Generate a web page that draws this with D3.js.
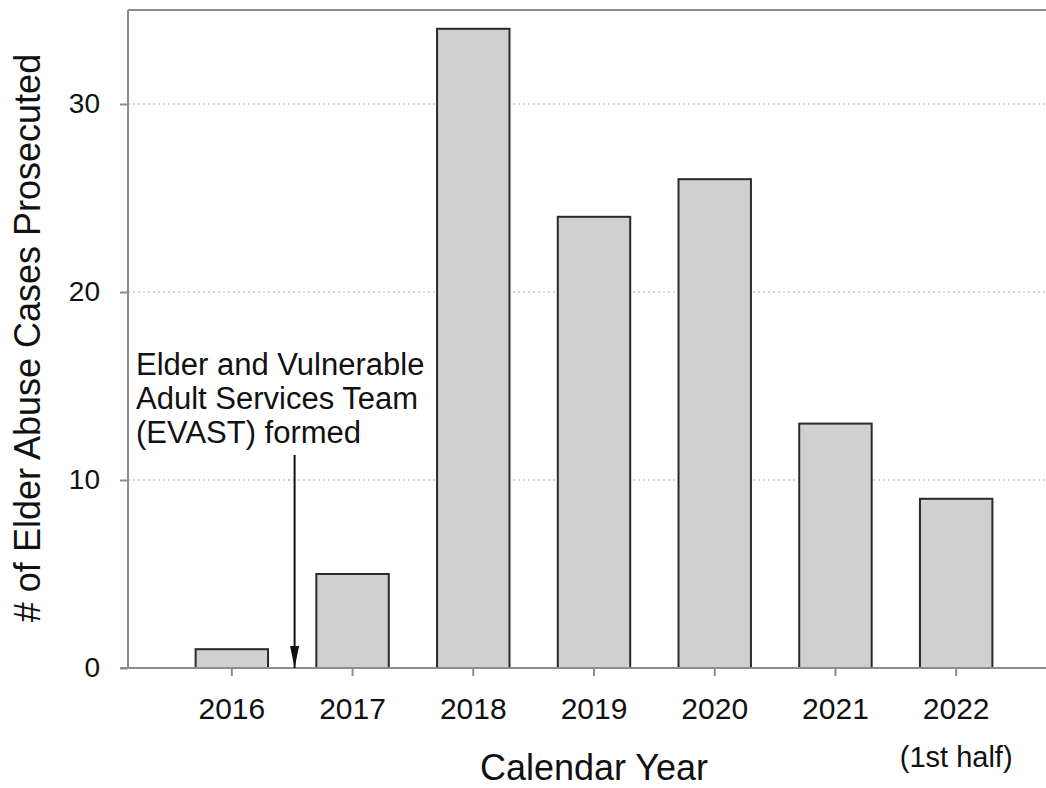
<!DOCTYPE html>
<html lang="en">
  <head>
    <script src="https://d3js.org/d3.v7.min.js"></script>
    <style>
      body { margin: 0; background: white; }
      text { font-family: "Liberation Sans", Arial, sans-serif; fill: #111; }
      .grid line { stroke: #c8c8c8; stroke-width: 1.5; stroke-dasharray: 2 3; }
      .bar { fill: #d0d0d0; stroke: #2a2a2a; stroke-width: 2; }
      .frame { stroke: #8c8c8c; stroke-width: 2; fill: none; }
    </style>
  </head>
  <body>
    <div id="chart"></div>
    <script>
      // data
      let years = ["2016", "2017", "2018", "2019", "2020", "2021", "2022"];
      let cases = [1, 5, 34, 24, 26, 13, 9];
      let yTicks = [0, 10, 20, 30];
      let subLabels = { "2022": "(1st half)" };
      let noteLines = ["Elder and Vulnerable", "Adult Services Team", "(EVAST) formed"];

      let width = 1046;
      let height = 788;
      let plotLeft = 128, plotRight = 1060, plotTop = 10, plotBottom = 668;

      let svg = d3
        .select("#chart")
        .append("svg")
        .attr("width", width)
        .attr("height", height);

      let x = d3
        .scaleBand()
        .domain(years)
        .range([plotLeft, plotRight])
        .paddingInner(0.4)
        .paddingOuter(0.56);

      let y = d3.scaleLinear().domain([0, 35]).range([plotBottom, plotTop]);

      // dotted gridlines
      svg
        .append("g")
        .attr("class", "grid")
        .selectAll("line")
        .data(yTicks.filter((d) => d > 0))
        .enter()
        .append("line")
        .attr("x1", plotLeft)
        .attr("x2", plotRight)
        .attr("y1", (d) => y(d))
        .attr("y2", (d) => y(d));

      // bars
      svg
        .append("g")
        .selectAll("rect")
        .data(years)
        .enter()
        .append("rect")
        .attr("class", "bar")
        .attr("x", (d) => x(d))
        .attr("width", x.bandwidth())
        .attr("y", (d, i) => y(cases[i]))
        .attr("height", (d, i) => y(0) - y(cases[i]));

      // frame: left axis, top border, bottom axis
      svg
        .append("line")
        .attr("class", "frame")
        .attr("x1", plotLeft).attr("x2", plotLeft)
        .attr("y1", plotTop).attr("y2", plotBottom);
      svg
        .append("line")
        .attr("class", "frame")
        .attr("x1", plotLeft).attr("x2", plotRight)
        .attr("y1", plotTop).attr("y2", plotTop);
      svg
        .append("line")
        .attr("class", "frame")
        .attr("x1", plotLeft - 8).attr("x2", plotRight)
        .attr("y1", plotBottom).attr("y2", plotBottom);

      // y axis
      let yAxis = d3
        .axisLeft(y)
        .tickValues(yTicks)
        .tickSize(8)
        .tickPadding(20);
      let gy = svg
        .append("g")
        .attr("transform", "translate(" + plotLeft + ",0)")
        .call(yAxis);
      gy.select(".domain").remove();
      gy.selectAll(".tick line").attr("stroke", "#8c8c8c").attr("stroke-width", 2);
      gy.selectAll(".tick text")
        .attr("font-size", 28)
        .attr("font-family", "Liberation Sans, Arial, sans-serif")
        .attr("fill", "#111");

      // x axis
      let xAxis = d3.axisBottom(x).tickSize(8).tickPadding(22);
      let gx = svg
        .append("g")
        .attr("transform", "translate(0," + plotBottom + ")")
        .call(xAxis);
      gx.select(".domain").remove();
      gx.selectAll(".tick line").attr("stroke", "#8c8c8c").attr("stroke-width", 2);
      gx.selectAll(".tick text")
        .attr("font-size", 30)
        .attr("font-family", "Liberation Sans, Arial, sans-serif")
        .attr("fill", "#111");
      gx.selectAll(".tick")
        .filter((d) => subLabels[d])
        .append("text")
        .attr("y", 99)
        .attr("text-anchor", "middle")
        .attr("font-size", 29)
        .attr("font-family", "Liberation Sans, Arial, sans-serif")
        .attr("fill", "#111")
        .text((d) => subLabels[d]);

      // axis titles
      svg
        .append("text")
        .attr("x", (x(years[0]) + x(years[years.length - 1]) + x.bandwidth()) / 2)
        .attr("y", 780)
        .attr("text-anchor", "middle")
        .attr("font-size", 36)
        .text("Calendar Year");

      svg
        .append("text")
        .attr("transform", "translate(40," + 338 + ") rotate(-90)")
        .attr("text-anchor", "middle")
        .attr("font-size", 36)
        .text("# of Elder Abuse Cases Prosecuted");

      // EVAST annotation
      let arrowX =
        x(years[0]) + x.bandwidth() + (x.step() - x.bandwidth()) * 0.55;
      svg
        .append("defs")
        .append("marker")
        .attr("id", "head")
        .attr("viewBox", "0 0 22 10")
        .attr("refX", 22)
        .attr("refY", 5)
        .attr("markerWidth", 22)
        .attr("markerHeight", 10)
        .attr("markerUnits", "userSpaceOnUse")
        .attr("orient", "auto")
        .append("path")
        .attr("d", "M0,0.5 L22,5 L0,9.5 Z")
        .attr("fill", "#111");
      svg
        .append("line")
        .attr("x1", arrowX).attr("x2", arrowX)
        .attr("y1", 455).attr("y2", y(0))
        .attr("stroke", "#111")
        .attr("stroke-width", 2)
        .attr("marker-end", "url(#head)");

      svg
        .append("text")
        .attr("x", 136)
        .attr("y", 375)
        .attr("font-size", 31)
        .selectAll("tspan")
        .data(noteLines)
        .enter()
        .append("tspan")
        .attr("x", 136)
        .attr("dy", (d, i) => (i === 0 ? 0 : 34))
        .text((d) => d);
    </script>
  </body>
</html>
